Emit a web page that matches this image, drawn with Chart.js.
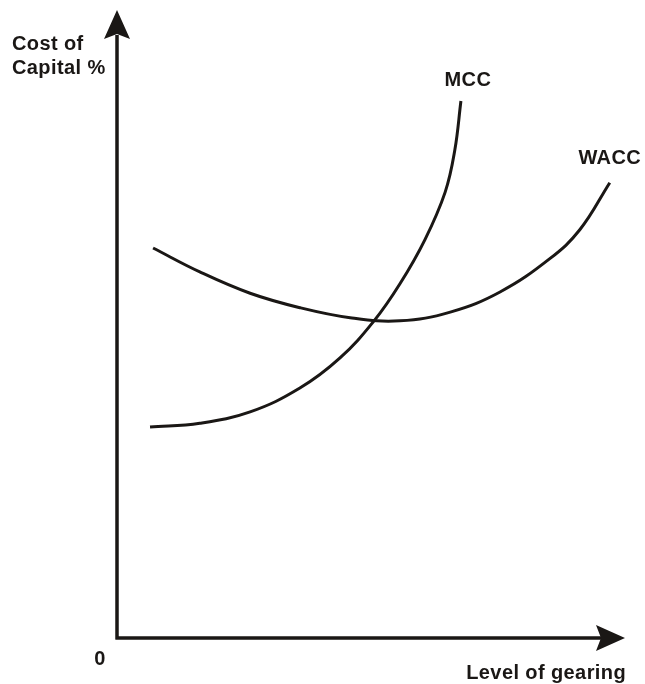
<!DOCTYPE html>
<html>
<head>
<meta charset="utf-8">
<script src="https://cdn.jsdelivr.net/npm/chart.js@4"></script>
<style>
  html, body { margin: 0; padding: 0; background: #fff; }
</style>
</head>
<body>
<canvas id="costChart" width="645" height="684"></canvas>
<script>
// level of gearing (x) and cost of capital (y), 0..100 units
const mccX = [6.5, 16.3, 26.2, 36.0, 43.9, 50.6, 55.7, 60.6, 64.6, 66.5, 67.7];
const mccY = [33.6, 34.2, 36.0, 39.8, 44.6, 50.5, 56.4, 63.4, 71.0, 77.7, 85.5];
const waccX = [7.1, 16.3, 26.2, 36.0, 45.9, 55.7, 65.6, 75.4, 85.2, 91.1, 97.0];
const waccY = [62.1, 58.3, 54.9, 52.6, 51.0, 50.5, 51.9, 55.1, 60.4, 65.0, 72.5];

const ink = '#1a1715';
const font = 'bold 20px "Liberation Sans", Arial, sans-serif';

const toPoints = (xs, ys) => xs.map((x, i) => ({ x: x, y: ys[i] }));

// axes with arrowheads + labels
const axesPlugin = {
  id: 'axesPlugin',
  afterDraw(chart) {
    const ctx = chart.ctx;
    const a = chart.chartArea;
    const xs = chart.scales.x, ys = chart.scales.y;
    const ox = xs.getPixelForValue(0), oy = ys.getPixelForValue(0);
    ctx.save();
    ctx.strokeStyle = ink;
    ctx.fillStyle = ink;
    ctx.lineWidth = 3.5;
    ctx.beginPath();
    ctx.moveTo(ox, oy + 1.5);
    ctx.lineTo(ox, a.top + 25);
    ctx.moveTo(ox - 1.5, oy);
    ctx.lineTo(a.right - 24, oy);
    ctx.stroke();
    // y arrow
    ctx.beginPath();
    ctx.moveTo(ox, a.top);
    ctx.lineTo(ox + 13, a.top + 29);
    ctx.lineTo(ox, a.top + 24);
    ctx.lineTo(ox - 13, a.top + 29);
    ctx.closePath();
    ctx.fill();
    // x arrow
    ctx.beginPath();
    ctx.moveTo(a.right, oy);
    ctx.lineTo(a.right - 29, oy - 13);
    ctx.lineTo(a.right - 24, oy);
    ctx.lineTo(a.right - 29, oy + 13);
    ctx.closePath();
    ctx.fill();

    ctx.font = font;
    ctx.letterSpacing = '0.4px';
    ctx.textBaseline = 'alphabetic';
    ctx.textAlign = 'left';
    ctx.fillText('Cost of', 12, 50);
    ctx.fillText('Capital %', 12, 74);
    ctx.textAlign = 'center';
    ctx.fillText('0', 100, 665);
    ctx.textAlign = 'right';
    ctx.fillText('Level of gearing', a.right + 1, 679);

    // curve labels next to their end points
    ctx.textAlign = 'center';
    const mEnd = chart.getDatasetMeta(0).data[mccX.length - 1];
    ctx.fillText('MCC', mEnd.x + 7, mEnd.y - 15);
    const wEnd = chart.getDatasetMeta(1).data[waccX.length - 1];
    ctx.fillText('WACC', wEnd.x, wEnd.y - 19);
    ctx.restore();
  }
};

new Chart(document.getElementById('costChart').getContext('2d'), {
  type: 'scatter',
  data: {
    datasets: [
      { label: 'MCC', data: toPoints(mccX, mccY) },
      { label: 'WACC', data: toPoints(waccX, waccY) }
    ]
  },
  options: {
    responsive: false,
    animation: false,
    showLine: true,
    layout: { padding: { left: 117, right: 20, top: 10, bottom: 46 } },
    elements: {
      line: { borderColor: ink, borderWidth: 3, tension: 0.4, borderCapStyle: 'butt' },
      point: { radius: 0, hoverRadius: 0 }
    },
    scales: {
      x: { type: 'linear', min: 0, max: 100, display: false },
      y: { type: 'linear', min: 0, max: 100, display: false }
    },
    plugins: { legend: { display: false }, tooltip: { enabled: false } }
  },
  plugins: [axesPlugin]
});
</script>
</body>
</html>
